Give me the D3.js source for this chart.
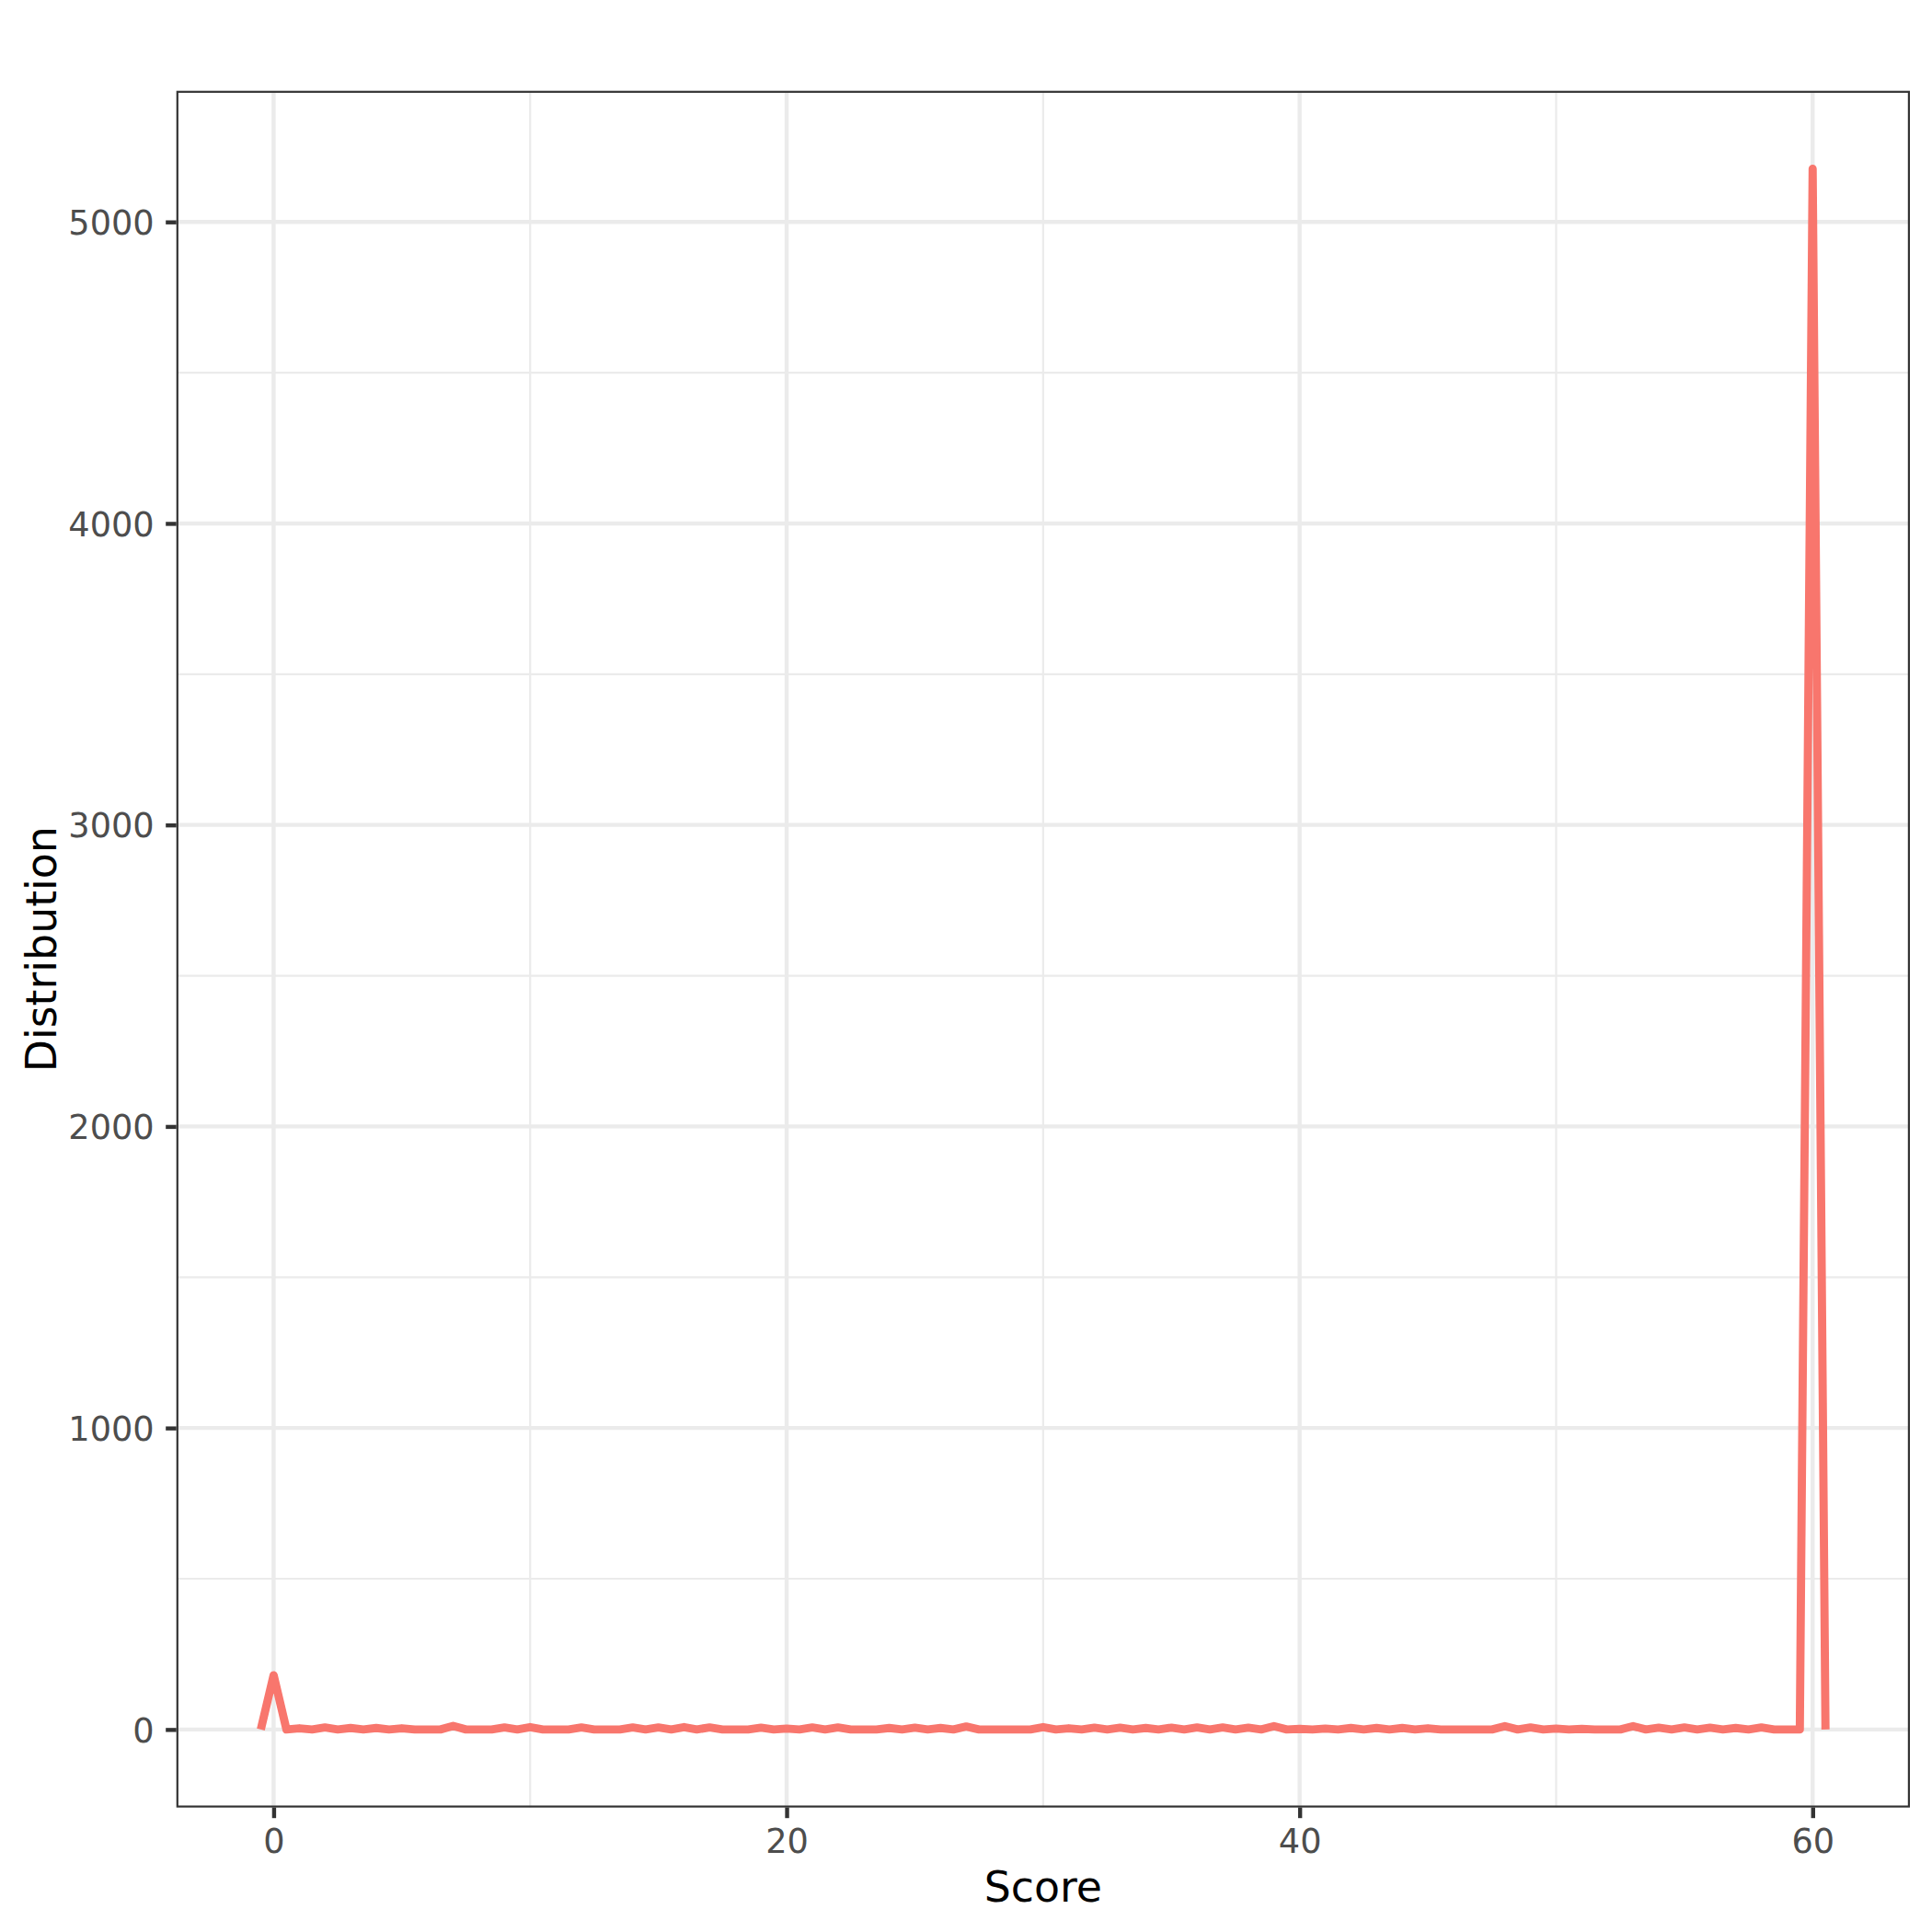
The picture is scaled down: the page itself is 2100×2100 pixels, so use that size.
<!DOCTYPE html>
<html>
<head>
<meta charset="utf-8">
<script src="https://cdn.jsdelivr.net/npm/d3@7"></script>
<style>
  html, body { margin: 0; padding: 0; background: #ffffff; }
  svg { display: block; }
</style>
</head>
<body>
<script>
// ---- data ----
const scores = [
  -0.5, 0, 0.5, 1, 1.5, 2, 2.5, 3, 3.5, 4, 4.5, 5, 5.5, 6, 6.5, 7, 7.5, 8, 8.5, 9, 9.5,
  10, 10.5, 11, 11.5, 12, 12.5, 13, 13.5, 14, 14.5, 15, 15.5, 16, 16.5, 17, 17.5, 18, 18.5, 19, 19.5,
  20, 20.5, 21, 21.5, 22, 22.5, 23, 23.5, 24, 24.5, 25, 25.5, 26, 26.5, 27, 27.5, 28, 28.5, 29, 29.5,
  30, 30.5, 31, 31.5, 32, 32.5, 33, 33.5, 34, 34.5, 35, 35.5, 36, 36.5, 37, 37.5, 38, 38.5, 39, 39.5,
  40, 40.5, 41, 41.5, 42, 42.5, 43, 43.5, 44, 44.5, 45, 45.5, 46, 46.5, 47, 47.5, 48, 48.5, 49, 49.5,
  50, 50.5, 51, 51.5, 52, 52.5, 53, 53.5, 54, 54.5, 55, 55.5, 56, 56.5, 57, 57.5, 58, 58.5, 59, 59.5,
  60, 60.5
];
const distribution = [
  0, 180, 0, 4, 0, 7, 0, 5, 0, 5, 0, 4, 0, 0, 0, 12, 0, 0, 0, 7, 0,
  8, 0, 0, 0, 7, 0, 0, 0, 7, 0, 7, 0, 8, 0, 7, 0, 0, 0, 6, 0,
  3, 0, 7, 0, 7, 0, 0, 0, 5, 0, 6, 0, 5, 0, 10, 0, 0, 0, 0, 0,
  8, 0, 4, 0, 6, 0, 6, 0, 5, 0, 6, 0, 7, 0, 7, 0, 6, 0, 11, 0,
  2, 0, 3, 0, 5, 0, 5, 0, 5, 0, 4, 0, 0, 0, 0, 0, 11, 0, 7, 0,
  3, 0, 2, 0, 0, 0, 11, 0, 6, 0, 7, 0, 6, 0, 5, 0, 7, 0, 0, 0,
  5176, 0
];
const xTicks = [0, 20, 40, 60];
const xMinor = [10, 30, 50];
const yTicks = [0, 1000, 2000, 3000, 4000, 5000];
const yMinor = [500, 1500, 2500, 3500, 4500];
const xTitle = "Score";
const yTitle = "Distribution";
const xLimits = [-0.72, 60.72];
const lineColor = "#F8766D";

// ---- layout ----
const W = 2100, H = 2100;
const panel = { left: 191.7, right: 2076, top: 98.7, bottom: 1964.7 };
const fontSizeTick = 36.7, fontSizeTitle = 45.8;

const data = scores.map((s, i) => ({ x: s, y: distribution[i] }));

function expand(lo, hi, m) { const d = (hi - lo) * m; return [lo - d, hi + d]; }

const x = d3.scaleLinear()
  .domain(expand(xLimits[0], xLimits[1], 0.05))
  .range([panel.left, panel.right]);
const yMax = d3.max(distribution), yMin = d3.min(distribution);
const y = d3.scaleLinear()
  .domain(expand(yMin, yMax, 0.05))
  .range([panel.bottom, panel.top]);

const svg = d3.select("body").append("svg")
  .attr("width", W).attr("height", H)
  .style("font-family", "'DejaVu Sans', sans-serif");

svg.append("rect").attr("width", W).attr("height", H).attr("fill", "#ffffff");

const pw = panel.right - panel.left, ph = panel.bottom - panel.top;
svg.append("defs").append("clipPath").attr("id", "pclip")
  .append("rect").attr("x", panel.left).attr("y", panel.top).attr("width", pw).attr("height", ph);

const grid = svg.append("g").attr("clip-path", "url(#pclip)");
// minor grid
grid.selectAll(".xminor").data(xMinor).enter().append("line")
  .attr("x1", d => x(d)).attr("x2", d => x(d))
  .attr("y1", panel.top).attr("y2", panel.bottom)
  .attr("stroke", "#EBEBEB").attr("stroke-width", 2.2);
grid.selectAll(".yminor").data(yMinor).enter().append("line")
  .attr("y1", d => y(d)).attr("y2", d => y(d))
  .attr("x1", panel.left).attr("x2", panel.right)
  .attr("stroke", "#EBEBEB").attr("stroke-width", 2.2);
// major grid
grid.selectAll(".xmajor").data(xTicks).enter().append("line")
  .attr("x1", d => x(d)).attr("x2", d => x(d))
  .attr("y1", panel.top).attr("y2", panel.bottom)
  .attr("stroke", "#EBEBEB").attr("stroke-width", 4.4);
grid.selectAll(".ymajor").data(yTicks).enter().append("line")
  .attr("y1", d => y(d)).attr("y2", d => y(d))
  .attr("x1", panel.left).attr("x2", panel.right)
  .attr("stroke", "#EBEBEB").attr("stroke-width", 4.4);

// line
const line = d3.line().x(d => x(d.x)).y(d => y(d.y));
grid.append("path").datum(data)
  .attr("d", line)
  .attr("fill", "none")
  .attr("stroke", lineColor)
  .attr("stroke-width", 8.9)
  .attr("stroke-linejoin", "round")
  .attr("stroke-linecap", "butt");

// panel border (half visible inside)
svg.append("rect")
  .attr("x", panel.left + 1.1).attr("y", panel.top + 1.1)
  .attr("width", pw - 2.2).attr("height", ph - 2.2)
  .attr("fill", "none").attr("stroke", "#333333").attr("stroke-width", 2.2);

// axes
const tickLen = 11.5;
const xAxis = d3.axisBottom(x).tickValues(xTicks).tickSize(tickLen).tickPadding(10).tickFormat(d3.format("d"));
const gx = svg.append("g").attr("transform", `translate(0,${panel.bottom})`).call(xAxis);
gx.select(".domain").remove();
gx.selectAll(".tick line").attr("stroke", "#333333").attr("stroke-width", 4.4);
gx.selectAll(".tick text").attr("fill", "#4D4D4D").attr("font-size", fontSizeTick)
  .attr("font-family", "'DejaVu Sans', sans-serif")
  .attr("dy", null).attr("y", null)
  .attr("transform", null);
gx.selectAll(".tick text").attr("y", 2014 - panel.bottom).attr("dominant-baseline", "alphabetic");

const yAxis = d3.axisLeft(y).tickValues(yTicks).tickSize(tickLen).tickPadding(12).tickFormat(d3.format("d"));
const gy = svg.append("g").attr("transform", `translate(${panel.left},0)`).call(yAxis);
gy.select(".domain").remove();
gy.selectAll(".tick line").attr("stroke", "#333333").attr("stroke-width", 4.4);
gy.selectAll(".tick text").attr("fill", "#4D4D4D").attr("font-size", fontSizeTick)
  .attr("font-family", "'DejaVu Sans', sans-serif")
  .attr("x", 167.7 - panel.left).attr("dy", "0.36em");

// titles
svg.append("text")
  .attr("x", (panel.left + panel.right) / 2).attr("y", 2067.3)
  .attr("text-anchor", "middle").attr("font-size", fontSizeTitle).attr("fill", "#000000")
  .text(xTitle);
svg.append("text")
  .attr("transform", `translate(61,${(panel.top + panel.bottom) / 2}) rotate(-90)`)
  .attr("text-anchor", "middle").attr("font-size", fontSizeTitle).attr("fill", "#000000")
  .text(yTitle);
</script>
</body>
</html>
